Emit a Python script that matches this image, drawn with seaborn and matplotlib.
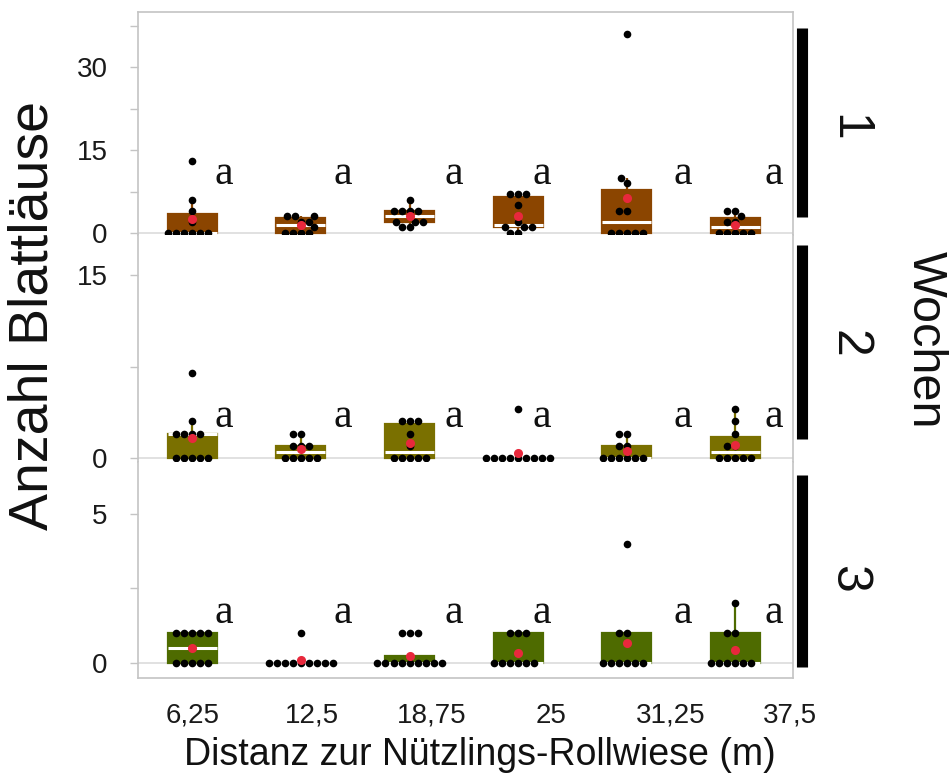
import numpy as np
import pandas as pd
import matplotlib
matplotlib.use("Agg")
import matplotlib.pyplot as plt
import seaborn as sns

# Distance categories (m) and aphid counts per sampling point, one list per week
distances = ["6,25", "12,5", "18,75", "25", "31,25", "37,5"]

week1 = [
    [0, 0, 0, 0, 0, 0, 2, 4, 6, 13],
    [0, 0, 0, 0, 1, 2, 2, 3, 3, 3],
    [1, 1, 2, 2, 2, 4, 4, 4, 4, 6],
    [0, 0, 1, 1, 1, 2, 5, 7, 7, 7],
    [0, 0, 0, 0, 0, 4, 4, 9, 10, 36],
    [0, 0, 0, 0, 0, 2, 2, 3, 4, 4],
]
week2 = [
    [0, 0, 0, 0, 0, 2, 2, 2, 2, 3, 7],
    [0, 0, 0, 0, 0, 1, 1, 1, 2, 2],
    [0, 0, 0, 0, 0, 1, 2, 3, 3, 3],
    [0, 0, 0, 0, 0, 0, 0, 0, 0, 4],
    [0, 0, 0, 0, 0, 0, 1, 1, 2, 2],
    [0, 0, 0, 0, 0, 1, 1, 2, 3, 4],
]
week3 = [
    [0, 0, 0, 0, 0, 1, 1, 1, 1, 1],
    [0, 0, 0, 0, 0, 0, 0, 0, 0, 1],
    [0, 0, 0, 0, 0, 0, 0, 0, 0, 1, 1, 1],
    [0, 0, 0, 0, 0, 0, 1, 1, 1],
    [0, 0, 0, 0, 0, 0, 1, 1, 4],
    [0, 0, 0, 0, 0, 0, 1, 1, 2],
]
weeks = ["1", "2", "3"]
letters = [["a"] * 6, ["a"] * 6, ["a"] * 6]

week_data = [week1, week2, week3]
week_colors = ["#8B4500", "#7A7000", "#4E6B00"]
mean_color = "#E8283C"

# long-format table built from the lists above
rows = []
for wk, groups in zip(weeks, week_data):
    for dist, vals in zip(distances, groups):
        for v in vals:
            rows.append({"Woche": wk, "Distanz": dist, "Anzahl": v})
df = pd.DataFrame(rows)

sns.set_theme(style="white")
plt.rcParams["font.family"] = ["Liberation Sans", "DejaVu Sans"]

W, H = 949, 778
fig = plt.figure(figsize=(W / 100, H / 100), dpi=100)

# panel rectangles in pixels: (top, bottom)
panel_px = [(12, 235), (235, 462), (462, 678)]
left_px, right_px = 138, 793
ylims = [(-0.36, 40.0), (-0.33, 18.3), (-0.5, 6.74)]
major_ticks = [[0, 15, 30], [0, 15], [0, 5]]
minor_ticks = [[7.5, 22.5, 37.5], [7.5], [2.5]]
letter_y = [10.8, 3.4, 1.7]
letter_dx = [0.29, 0.39, 0.41, 0.22, 0.52, 0.35]
bar_spans = [(0.08, 0.93), (0.10, 0.955), (0.05, 0.94)]
strip_y = [0.48, 0.52, 0.46]
spine_col = "#c4c4c4"

axes = []
for p, (top, bot) in enumerate(panel_px):
    ax = fig.add_axes([left_px / W, 1 - bot / H, (right_px - left_px) / W, (bot - top) / H])
    axes.append(ax)
    sub = df[df["Woche"] == weeks[p]]
    col = week_colors[p]

    ax.axhline(0, color="#dcdcdc", lw=1.2, zorder=0)

    sns.boxplot(data=sub, x="Distanz", y="Anzahl", order=distances, color=col,
                saturation=1, width=0.45, showfliers=False, linewidth=1.6,
                linecolor=col, medianprops=dict(color="white", linewidth=2.2),
                capprops=dict(visible=False), ax=ax, zorder=2)
    sns.swarmplot(data=sub, x="Distanz", y="Anzahl", order=distances,
                  color="black", size=5.5, ax=ax, zorder=3)
    sns.pointplot(data=sub, x="Distanz", y="Anzahl", order=distances,
                  estimator="mean", errorbar=None, color=mean_color,
                  linestyle="none", marker="o", markersize=4.5, ax=ax, zorder=5)

    for i, lab in enumerate(letters[p]):
        ax.text(i + letter_dx[i], letter_y[p], lab, ha="center", va="center",
                fontsize=30, family=["Liberation Serif", "DejaVu Serif"], color="#111111")

    ax.set_xlim(-0.5, 5.53)
    ax.set_ylim(*ylims[p])
    ax.set_yticks(major_ticks[p])
    ax.set_yticklabels([str(t) for t in major_ticks[p]])
    ax.set_yticks(minor_ticks[p], minor=True)
    ax.tick_params(axis="y", which="both", left=True, length=6, width=1,
                   color=spine_col, pad=16, labelsize=20, labelcolor="#1a1a1a")
    ax.set_xlabel("")
    ax.set_ylabel("")

    for side in ["left", "right", "top", "bottom"]:
        ax.spines[side].set_color(spine_col)
        ax.spines[side].set_linewidth(1.2)
    ax.spines["top"].set_visible(p == 0)
    ax.spines["bottom"].set_visible(p == 2)

    # facet strip: black bar and week number to the right of the panel
    b0, b1 = bar_spans[p]
    ax.plot([1.014, 1.014], [b0, b1], transform=ax.transAxes, color="black",
            lw=8, solid_capstyle="butt", clip_on=False)
    ax.text(1.084, strip_y[p], weeks[p], transform=ax.transAxes, rotation=-90,
            ha="center", va="center", fontsize=36, color="#111111")

    if p < 2:
        ax.set_xticks([])
    else:
        ax.set_xticks(np.arange(len(distances)) * 1.1)
        ax.set_xticklabels(distances)
        ax.tick_params(axis="x", length=0, pad=18, labelsize=20, labelcolor="#1a1a1a")

fig.text(0.035, 0.595, "Anzahl Blattläuse", rotation=90, ha="center", va="center",
         fontsize=40, color="#111111")
fig.text(0.506, 0.030, "Distanz zur Nützlings-Rollwiese (m)", ha="center", va="center",
         fontsize=27, color="#111111")
fig.text(0.975, 0.563, "Wochen", rotation=-90, ha="center", va="center",
         fontsize=35, color="#111111")

fig.savefig("out.png", dpi=100, facecolor="white")
